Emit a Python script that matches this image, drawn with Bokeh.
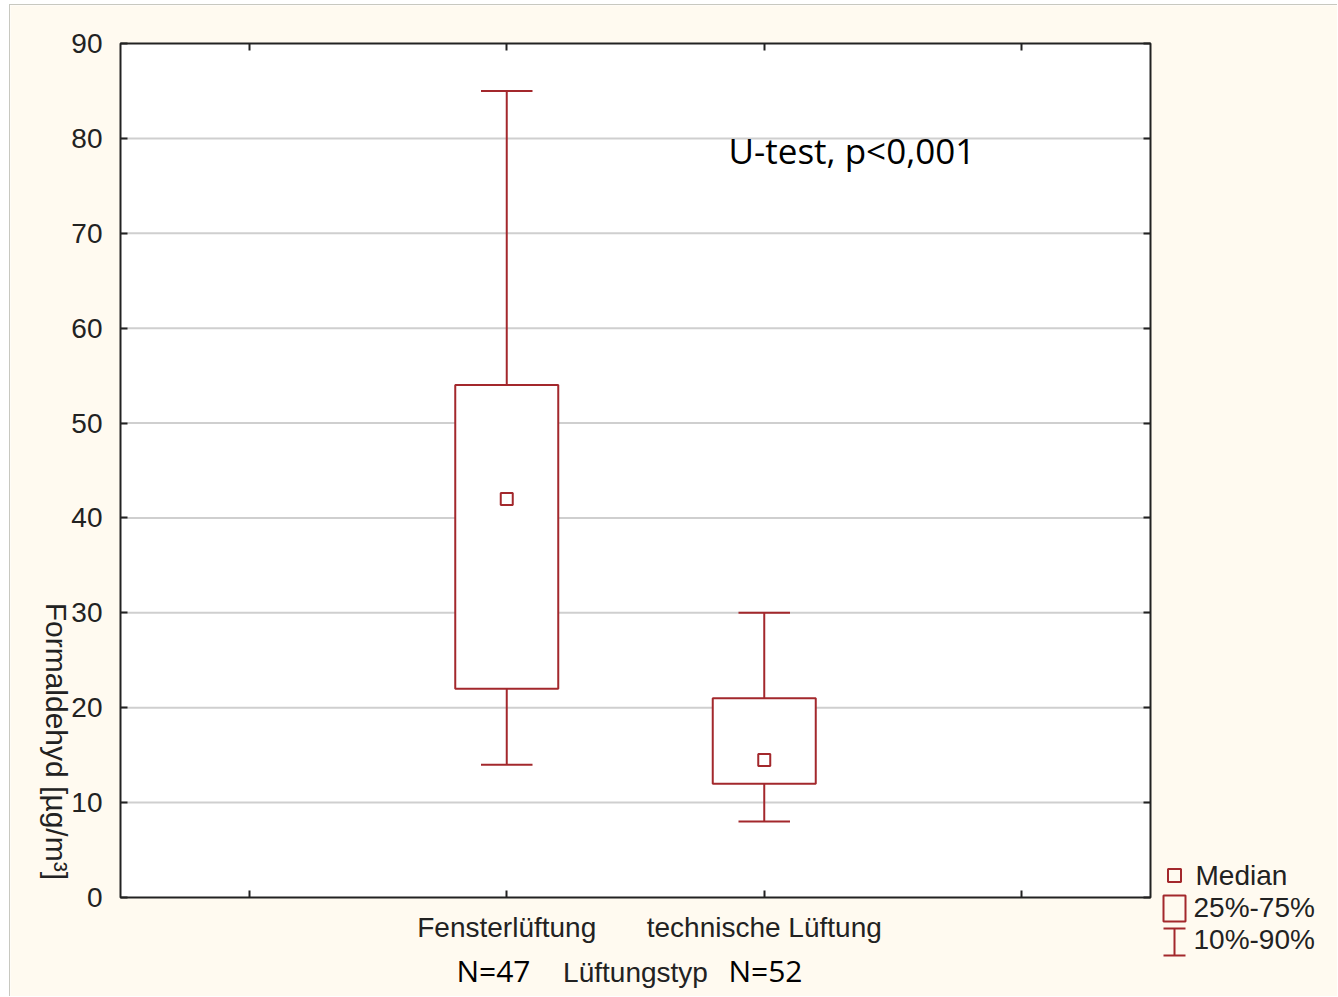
from bokeh.plotting import figure
from bokeh.models import Range1d, LinearAxis, FixedTicker
from bokeh.core.properties import value
from bokeh.embed import file_html
from bokeh.resources import INLINE

# Formaldehyde concentration by ventilation type (percentile summary)
groups = ["Fensterlüftung", "technische Lüftung"]
group_pos = [1.5, 2.5]
n_counts = [47, 52]
p10 = [14, 8]
q1 = [22, 12]
median = [42, 14.5]
q3 = [54, 21]
p90 = [85, 30]

y_ticks = [0, 10, 20, 30, 40, 50, 60, 70, 80, 90]
x_ticks = [0.5, 1.5, 2.5, 3.5]
key_labels = ["Median", "25%-75%", "10%-90%"]

BOX = "#A3282C"
CREAM = "#FFFAF0"
INK = "#222222"
AX_FONT = "Liberation Sans"

# page geometry: canvas starts at (10, 5); plotting area spans x 120..1150, y 43..897
PAGE_L, PAGE_T, PAGE_R, PAGE_B = 10, 5, 1338, 997
AREA_L, AREA_T, AREA_R, AREA_B = 120, 43, 1150, 897
X0, X1, Y0, Y1 = 0, 4, 0, 90
sx = (AREA_R - AREA_L) / (X1 - X0)
sy = (AREA_B - AREA_T) / (Y1 - Y0)


def cx(px):
    """page pixel column -> data x"""
    return X0 + (px - AREA_L) / sx


def cy(py):
    """page pixel row -> data y"""
    return Y0 + (AREA_B - py) / sy


p = figure(width=PAGE_R - PAGE_L, height=PAGE_B - PAGE_T,
           x_range=Range1d(cx(PAGE_L), cx(PAGE_R)), y_range=Range1d(cy(PAGE_B), cy(PAGE_T)),
           min_border=0, x_axis_type=None, y_axis_type=None,
           output_backend="svg", toolbar_location=None)
p.background_fill_color = CREAM
p.border_fill_color = CREAM
p.outline_line_color = None
p.styles = {"margin-left": "9px", "margin-top": "4px",
            "border-left": "1px solid #c8c8c0", "border-top": "1px solid #c8c8c0"}

# white plotting area
p.quad(left=[X0], right=[X1], bottom=[Y0], top=[Y1],
       fill_color="white", line_color=None)

# horizontal grid lines
grid_y = y_ticks[1:-1]
p.segment(x0=[X0] * len(grid_y), y0=grid_y, x1=[X1] * len(grid_y), y1=grid_y,
          line_color="#cfcfcf", line_width=2)


def make_axis(side, ticks, loc, bounds):
    ax = LinearAxis(ticker=FixedTicker(ticks=ticks), fixed_location=loc, bounds=bounds)
    ax.axis_line_color = None
    ax.major_tick_in = 7
    ax.major_tick_out = 0
    ax.major_tick_line_color = INK
    ax.major_tick_line_width = 2
    ax.minor_tick_line_color = None
    ax.major_label_text_font = AX_FONT
    ax.major_label_text_font_size = "28px"
    ax.major_label_text_color = INK
    ax.axis_label_text_font = AX_FONT
    ax.axis_label_text_font_size = "28px"
    ax.axis_label_text_font_style = "normal"
    ax.axis_label_text_color = INK
    p.add_layout(ax, side)
    return ax


yax = make_axis("left", y_ticks, X0, (Y0, Y1))
yax.major_label_standoff = 18

xax = make_axis("below", x_ticks, Y0, (X0, X1))
labels = {t: "" for t in x_ticks}
for pos, g in zip(group_pos, groups):
    labels[pos] = g
xax.major_label_overrides = labels
xax.major_label_standoff = 14
xax.axis_label = "Lüftungstyp"
xax.axis_label_standoff = 11

for side, ticks, loc, bounds in (("right", y_ticks, X1, (Y0, Y1)),
                                 ("above", x_ticks, Y1, (X0, X1))):
    ax = make_axis(side, ticks, loc, bounds)
    ax.major_label_overrides = {t: "" for t in ticks}

# whiskers (10%-90%)
p.segment(x0=group_pos, y0=p10, x1=group_pos, y1=q1, line_color=BOX, line_width=2)
p.segment(x0=group_pos, y0=q3, x1=group_pos, y1=p90, line_color=BOX, line_width=2)
cap_l = [x - 0.1 for x in group_pos]
cap_r = [x + 0.1 for x in group_pos]
p.segment(x0=cap_l, y0=p10, x1=cap_r, y1=p10, line_color=BOX, line_width=2)
p.segment(x0=cap_l, y0=p90, x1=cap_r, y1=p90, line_color=BOX, line_width=2)

# boxes (25%-75%)
p.vbar(x=group_pos, width=0.4, bottom=q1, top=q3,
       fill_color="white", line_color=BOX, line_width=2)

# medians
p.scatter(x=group_pos, y=median, marker="square", size=12,
          fill_color="white", line_color=BOX, line_width=2)

# plotting area border
p.quad(left=[X0], right=[X1], bottom=[Y0], top=[Y1],
       fill_color=None, line_color=INK, line_width=2)

# y axis title
p.text(x=[cx(56)], y=[cy(745)], text=["Formaldehyd  [µg/m³]"], angle=-1.5708,
       text_align="center", text_baseline="middle",
       text_font=value(AX_FONT), text_font_size="30px", text_color=INK)

# group sizes
n_x = [cx(493), cx(765)]
p.text(x=n_x, y=[cy(970)] * 2, text=[f"N={n}" for n in n_counts],
       text_align="center", text_baseline="middle",
       text_font=value("Open Sans"), text_font_size="30px", text_color="black")

p.text(x=[cx(728)], y=[cy(150)], text=["U-test, p<0,001"],
       text_align="left", text_baseline="middle",
       text_font=value("Open Sans"), text_font_size="35px", text_color="black")

# key
kx = cx(1174)
k_l, k_r = cx(1163), cx(1185)
p.scatter(x=[kx], y=[cy(875)], marker="square", size=13,
          fill_color=None, line_color=BOX, line_width=2)
p.quad(left=[k_l], right=[k_r], top=[cy(895)], bottom=[cy(921)],
       fill_color=None, line_color=BOX, line_width=2)
p.segment(x0=[kx, k_l, k_l], y0=[cy(928), cy(928), cy(955)],
          x1=[kx, k_r, k_r], y1=[cy(955), cy(928), cy(955)],
          line_color=BOX, line_width=2)
p.text(x=[cx(1195), cx(1193), cx(1193)], y=[cy(875), cy(907), cy(939)], text=key_labels,
       text_align="left", text_baseline="middle",
       text_font=value(AX_FONT), text_font_size="28px", text_color=INK)

open("out.html", "w").write(file_html(p, INLINE))
